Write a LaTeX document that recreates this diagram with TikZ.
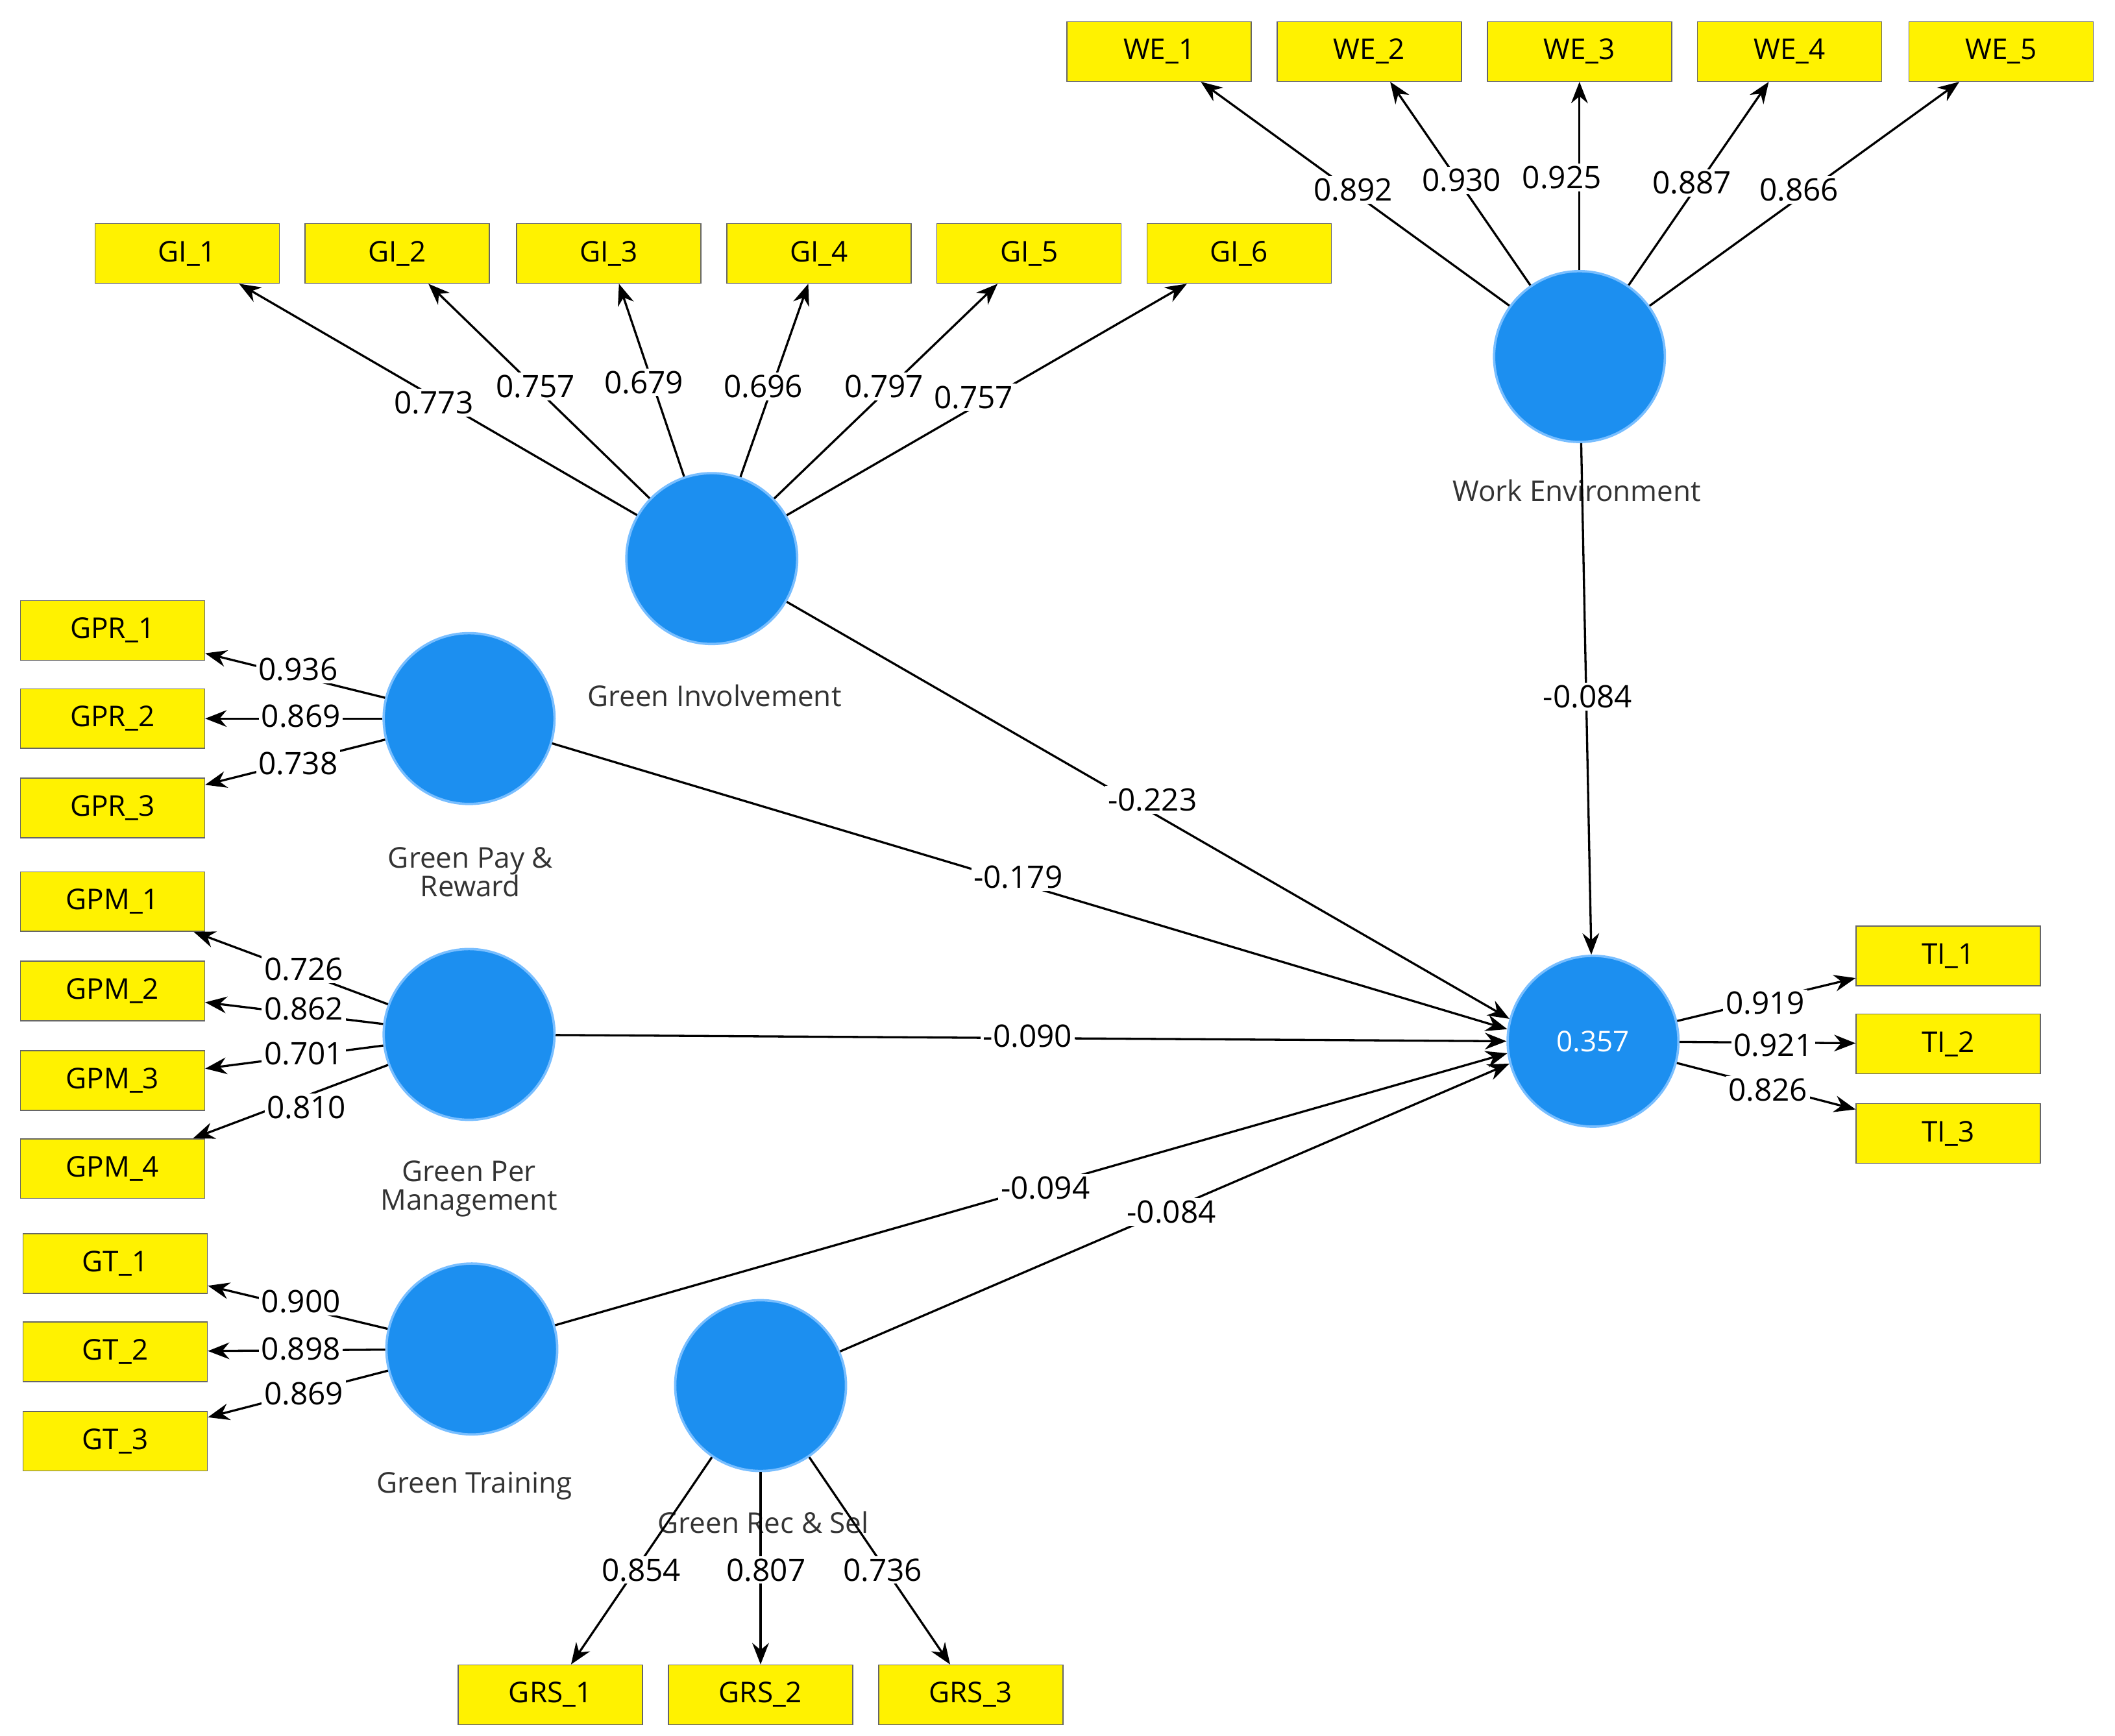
\documentclass[tikz,border=0pt]{standalone}
\usepackage{fontspec}
\setmainfont{Open Sans}
\usetikzlibrary{arrows.meta}
\definecolor{lv}{RGB}{28,143,240}
\definecolor{lvb}{RGB}{120,190,255}
\begin{document}
\begin{tikzpicture}[x=0.02cm,y=-0.02cm,
 ind/.style={draw=black!60,fill=yellow,minimum width=2.72cm,minimum height=0.88cm,inner sep=0pt,font=\fontsize{12}{14}\selectfont},
 lat/.style={circle,draw=lvb,line width=1pt,fill=lv,minimum size=2.52cm,inner sep=0pt},
 lvcap/.style={font=\fontsize{12}{14}\selectfont,text=black!80,align=center},
 lab/.style={fill=white,inner sep=1pt,font=\fontsize{13}{15}\selectfont},
 arr/.style={-{Stealth[length=9pt,width=7pt]},line width=0.9pt}]
\useasboundingbox[fill=white] (0,0) rectangle (1560,1280);
% indicators
\foreach \n/\x in {1/855,2/1010,3/1165,4/1320,5/1476}{\node[ind] (we\n) at (\x,38) {WE\_\n};}
\foreach \n/\x in {1/138,2/293,3/449,4/604,5/759,6/914}{\node[ind] (gi\n) at (\x,187) {GI\_\n};}
\foreach \n/\y in {1/465,2/530,3/596}{\node[ind] (gpr\n) at (83,\y) {GPR\_\n};}
\foreach \n/\y in {1/665,2/731,3/797,4/862}{\node[ind] (gpm\n) at (83,\y) {GPM\_\n};}
\foreach \n/\y in {1/932,2/997,3/1063}{\node[ind] (gt\n) at (85,\y) {GT\_\n};}
\foreach \n/\x in {1/406,2/561,3/716}{\node[ind] (grs\n) at (\x,1250) {GRS\_\n};}
\foreach \n/\y in {1/705,2/770,3/836}{\node[ind] (ti\n) at (1437,\y) {TI\_\n};}
% latent
\node[lat] (we) at (1165,263) {};
\node[lat] (gi) at (525,412) {};
\node[lat] (gpr) at (346,530) {};
\node[lat] (gpm) at (346,763) {};
\node[lat] (gt) at (348,995) {};
\node[lat] (grs) at (561,1022) {};
\node[lat] (ti) at (1175,768) {\textcolor{white}{\fontsize{12}{14}\selectfont 0.357}};
\node[lvcap] (cwe) at (1163,362) {Work Environment};
\node[lvcap] (cgi) at (527,513) {Green Involvement};
\node[lvcap] (cgpr) at (347,643) {Green Pay \&\\[-2pt]Reward};
\node[lvcap] (cgpm) at (346,877) {Green Per\\[-2pt]Management};
\node[lvcap] (cgt) at (350,1096) {Green Training};
\node[lvcap] (cgrs) at (563,1123) {Green Rec \& Sel};
% outer arrows
\foreach \n in {1,...,5}{\draw[arr] (we) -- (we\n);}
\foreach \n in {1,...,6}{\draw[arr] (gi) -- (gi\n);}
\foreach \n in {1,2,3}{\draw[arr] (gpr) -- (gpr\n);}
\foreach \n in {1,...,4}{\draw[arr] (gpm) -- (gpm\n);}
\foreach \n in {1,2,3}{\draw[arr] (gt) -- (gt\n);}
\foreach \n in {1,2,3}{\draw[arr] (grs) -- (grs\n);}
\foreach \n in {1,2,3}{\draw[arr] (ti) -- (ti\n);}
% inner arrows
\draw[arr] (we) -- (ti);
\draw[arr] (gi) -- (ti.165);
\draw[arr] (gpr) -- (ti.172);
\draw[arr] (gpm) -- (ti.180);
\draw[arr] (gt) -- (ti.188);
\draw[arr] (grs) -- (ti.195);
% labels
\foreach \t/\x/\y [count=\i] in {0.892/998/140,0.930/1078/133,0.925/1152/131,0.887/1248/135,0.866/1327/140,
 0.773/320/297,0.757/395/285,0.679/475/282,0.696/563/285,0.797/652/285,0.757/718/293,
 0.936/220/494,0.869/222/528,0.738/220/563,
 0.726/224/715,0.862/224/744,0.701/224/777,0.810/226/817,
 0.900/222/960,0.898/222/995,0.869/224/1028,
 0.854/473/1158,0.807/565/1158,0.736/651/1158,
 0.919/1302/740,0.921/1308/771,0.826/1304/804,
 -0.223/850/590,-0.179/751/647,-0.090/758/764,-0.094/771/876,-0.084/864/894,-0.084/1171/514}
 {\node[lab] (l\i) at (\x,\y) {\t};}
\end{tikzpicture}
\end{document}
